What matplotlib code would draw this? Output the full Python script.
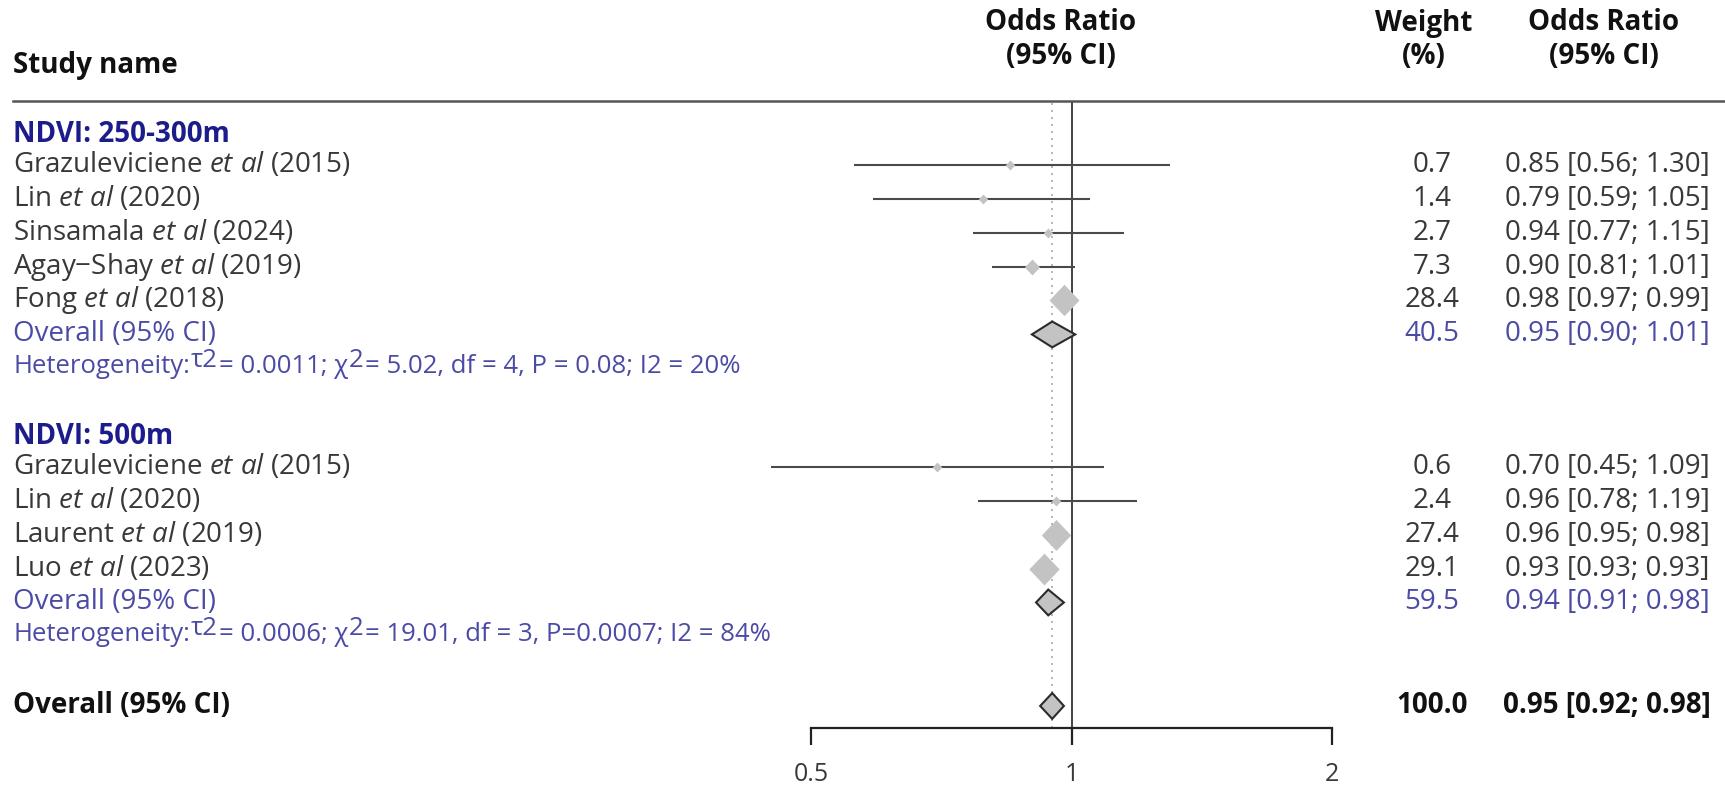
import numpy as np
import matplotlib
matplotlib.use("Agg")
import matplotlib.pyplot as plt
from matplotlib.lines import Line2D
from matplotlib.ticker import FixedLocator, FixedFormatter, NullLocator

plt.rcParams['font.family'] = ['Open Sans', 'DejaVu Sans']
plt.rcParams['mathtext.fontset'] = 'custom'
plt.rcParams['mathtext.rm'] = 'Open Sans'
plt.rcParams['mathtext.it'] = 'Open Sans:italic'
plt.rcParams['mathtext.bf'] = 'Open Sans:bold'

# ---- data ----
g1_name = "NDVI: 250-300m"
g1_authors = ["Grazuleviciene", "Lin", "Sinsamala", "Agay\u2212Shay", "Fong"]
g1_years = [2015, 2020, 2024, 2019, 2018]
g1_or = [0.85, 0.79, 0.94, 0.90, 0.98]
g1_lo = [0.56, 0.59, 0.77, 0.81, 0.97]
g1_hi = [1.30, 1.05, 1.15, 1.01, 0.99]
g1_w = [0.7, 1.4, 2.7, 7.3, 28.4]
g1_pool = [0.95, 0.90, 1.01]
g1_pool_w = 40.5
g1_het = ["0.0011", "5.02", "4", " = 0.08", "20%"]

g2_name = "NDVI: 500m"
g2_authors = ["Grazuleviciene", "Lin", "Laurent", "Luo"]
g2_years = [2015, 2020, 2019, 2023]
g2_or = [0.70, 0.96, 0.96, 0.93]
g2_lo = [0.45, 0.78, 0.95, 0.93]
g2_hi = [1.09, 1.19, 0.98, 0.93]
g2_w = [0.6, 2.4, 27.4, 29.1]
g2_pool = [0.94, 0.91, 0.98]
g2_pool_w = 59.5
g2_het = ["0.0006", "19.01", "3", "=0.0007", "84%"]

tot_pool = [0.95, 0.92, 0.98]
tot_w = 100.0

xticks = [0.5, 1, 2]
xtick_labels = ["0.5", "1", "2"]

# ---- style ----
C_TXT = '#383838'
C_HEAD = '#1c1c8a'
C_SUB = '#4b4ba6'
C_MARK = '#c3c3c3'
C_LINE = '#4a4a4a'
FS = 20
FS_HET = 18.5

W, H = 1725, 792
fig = plt.figure(figsize=(W / 100, H / 100), dpi=100)
ax = fig.add_axes([811 / W, 1 - 728 / H, (1332 - 811) / W, (728 - 101) / H])
ax.set_xscale('log')
ax.set_xlim(0.5, 2)
ax.set_ylim(17.6, -0.88)
for s in ['left', 'right', 'top']:
    ax.spines[s].set_visible(False)
ax.spines['bottom'].set_linewidth(1.6)
ax.spines['bottom'].set_color('#222222')
ax.yaxis.set_major_locator(NullLocator())
ax.xaxis.set_major_locator(FixedLocator(xticks))
ax.xaxis.set_major_formatter(FixedFormatter(xtick_labels))
ax.xaxis.set_minor_locator(NullLocator())
ax.tick_params(axis='x', direction='out', length=12.5, width=1.6, color='#222222',
               labelsize=18, labelcolor=C_TXT, pad=12)
ax.patch.set_visible(False)

ax.axvline(1, color='#222222', lw=1.2, zorder=1)
ax.axvline(tot_pool[0], color='#aaaaaa', lw=1.2, ls=(0, (1.2, 3)), zorder=1)

# header line across the figure
fig.add_artist(Line2D([13 / W, 1.0], [1 - 101 / H] * 2, color='#555555', lw=1.8))

# column headers
HC = '#111111'
fig.text(13 / W, 1 - 66 / H, "Study name", fontsize=FS, fontweight='bold', color=HC, va='center')
fig.text(1061 / W, 1 - 23 / H, "Odds Ratio", fontsize=FS, fontweight='bold', color=HC, va='center', ha='center')
fig.text(1061 / W, 1 - 56 / H, "(95% CI)", fontsize=FS, fontweight='bold', color=HC, va='center', ha='center')
fig.text(1424 / W, 1 - 23 / H, "Weight", fontsize=FS, fontweight='bold', color=HC, va='center', ha='center')
fig.text(1424 / W, 1 - 56 / H, "(%)", fontsize=FS, fontweight='bold', color=HC, va='center', ha='center')
fig.text(1604 / W, 1 - 23 / H, "Odds Ratio", fontsize=FS, fontweight='bold', color=HC, va='center', ha='center')
fig.text(1604 / W, 1 - 56 / H, "(95% CI)", fontsize=FS, fontweight='bold', color=HC, va='center', ha='center')

trf = matplotlib.transforms.blended_transform_factory(fig.transFigure, ax.transData)
X_NAME = 13 / W
X_W = 1432 / W
X_OR = 1607 / W

diamond = [(-0.95, 0), (0, 1), (0.95, 0), (0, -1), (-0.95, 0)]
renderer = fig.canvas.get_renderer()


def fmt_ci(e, l, h):
    return f"{e:.2f} [{l:.2f}; {h:.2f}]"


def pooled_diamond(y, est, lo, hi, h=0.38):
    ax.fill([lo, est, hi, est, lo], [y, y - h, y, y + h, y], facecolor=C_MARK,
            edgecolor='#2b2b2b', lw=1.5, zorder=4, clip_on=False)


def het_line(y, vals):
    # draw heterogeneity text piece by piece, with raised tau2 / 2
    pieces = [("Heterogeneity:", 0), ("\u03c42", 6), ("= " + vals[0] + "; \u03c7", 0), ("2", 6),
              ("= " + vals[1] + ", df = " + vals[2] + ", P" + vals[3] + "; I2 = " + vals[4], 0)]
    dx = 0
    for s, dy in pieces:
        t = ax.annotate(s, xy=(X_NAME, y), xycoords=trf, xytext=(dx, dy), textcoords='offset pixels',
                        fontsize=FS_HET, color=C_SUB, va='center', ha='left', annotation_clip=False)
        bb = t.get_window_extent(renderer)
        dx += bb.width + 1


def draw_group(base, name, authors, years, ors, los, his, ws, pool, pool_w, het):
    fig.text(X_NAME, base + 0.1, name, transform=trf, fontsize=FS, fontweight='bold',
             color=C_HEAD, va='center')
    for i in range(len(authors)):
        y = base + 1 + i
        fig.text(X_NAME, y, authors[i] + r" $\mathit{et\ al}$ (" + str(years[i]) + ")",
                 transform=trf, fontsize=FS, color=C_TXT, va='center')
        fig.text(X_W, y, f"{ws[i]:.1f}", transform=trf, fontsize=FS, color=C_TXT, va='center', ha='center')
        fig.text(X_OR, y, fmt_ci(ors[i], los[i], his[i]), transform=trf, fontsize=FS, color=C_TXT,
                 va='center', ha='center')
        ax.plot([los[i], his[i]], [y, y], color=C_LINE, lw=1.5, zorder=2, clip_on=False,
                solid_capstyle='butt')
        ms = max(30 * np.sqrt(ws[i] / 28.4), 9.5) * 0.72 * 1.05
        ax.plot(ors[i], y, marker=diamond, ms=ms, color=C_MARK, mec='none', zorder=3, clip_on=False)
    y = base + len(authors) + 1
    fig.text(X_NAME, y, "Overall (95% CI)", transform=trf, fontsize=FS, color=C_SUB, va='center')
    fig.text(X_W, y, f"{pool_w:.1f}", transform=trf, fontsize=FS, color=C_SUB, va='center', ha='center')
    fig.text(X_OR, y, fmt_ci(*pool), transform=trf, fontsize=FS, color=C_SUB, va='center', ha='center')
    pooled_diamond(y, *pool)
    het_line(y + 0.95, het)


draw_group(0, g1_name, g1_authors, g1_years, g1_or, g1_lo, g1_hi, g1_w, g1_pool, g1_pool_w, g1_het)
draw_group(8.9, g2_name, g2_authors, g2_years, g2_or, g2_lo, g2_hi, g2_w, g2_pool, g2_pool_w, g2_het)

yt = 16.95
fig.text(X_NAME, yt, "Overall (95% CI)", transform=trf, fontsize=FS, fontweight='bold', color=HC, va='center')
fig.text(X_W, yt, f"{tot_w:.1f}", transform=trf, fontsize=FS, fontweight='bold', color=HC, va='center', ha='center')
fig.text(X_OR, yt, fmt_ci(*tot_pool), transform=trf, fontsize=FS, fontweight='bold', color=HC, va='center', ha='center')
pooled_diamond(yt, *tot_pool)

fig.savefig("out.png", dpi=100, facecolor='white')
